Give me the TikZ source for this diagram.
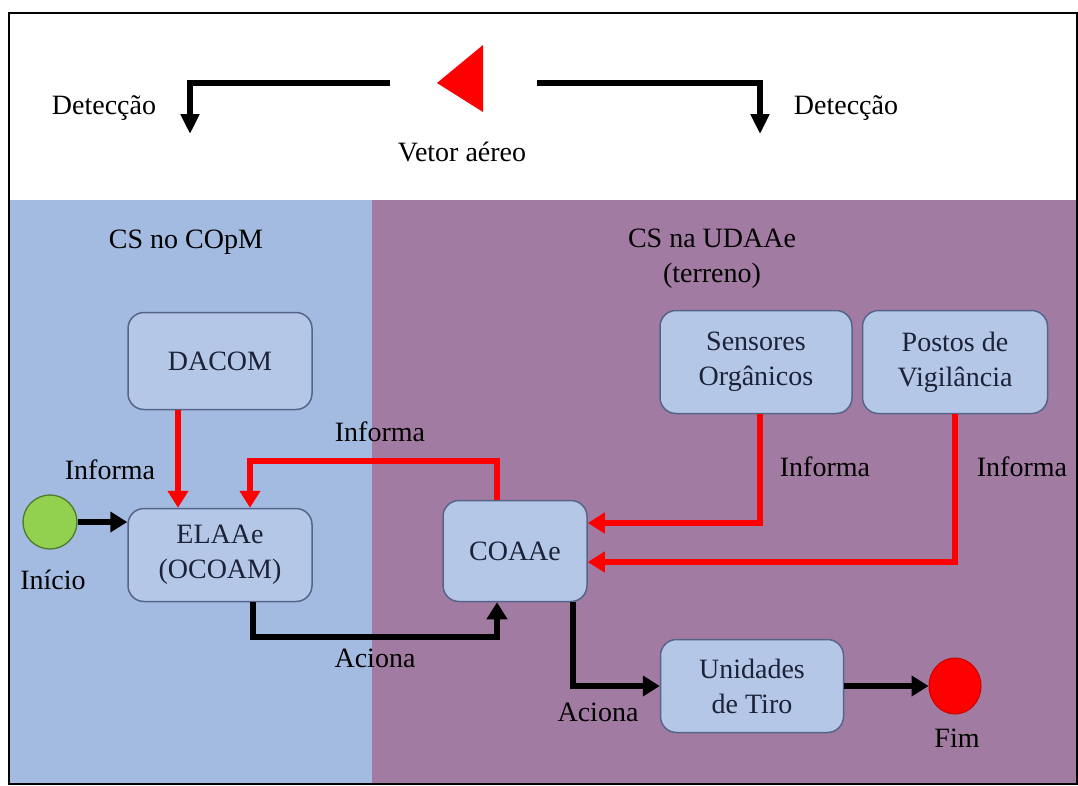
\documentclass[tikz,border=0pt]{standalone}
\usepackage{fontspec}
\setmainfont{Liberation Serif}
\newfontfamily\tnrfont{Liberation Serif}
\usetikzlibrary{arrows.meta,shapes.geometric}
\definecolor{bluebg}{HTML}{A3BBE1}
\definecolor{purplebg}{HTML}{A27BA2}
\definecolor{boxfill}{HTML}{B4C7E7}
\definecolor{boxline}{HTML}{56648A}
\definecolor{boxtext}{HTML}{1C2238}
\definecolor{startgreen}{HTML}{92D050}
\definecolor{startline}{HTML}{4E7A2A}
\newcommand{\lblfont}{\tnrfont\fontsize{28}{35}\selectfont}
\begin{document}
\begin{tikzpicture}[x=1pt,y=-1pt,
  box/.style={draw=boxline, fill=boxfill, rounded corners=16pt, line width=1.5pt, align=center, font=\lblfont, text=boxtext, inner sep=0pt},
  lbl/.style={font=\lblfont, inner sep=0pt},
  redarr/.style={draw=red, line width=6pt, -{Triangle[length=17pt,width=20pt]}},
  blkarr/.style={draw=black, line width=6pt, -{Triangle[length=17pt,width=20pt]}}
]
\useasboundingbox (0,0) rectangle (1078,785);
\fill[white] (0,0) rectangle (1078,785);
% background regions
\fill[bluebg] (8,200) rectangle (372,785);
\fill[purplebg] (372,200) rectangle (1078,785);
\draw[line width=2pt] (9,13) rectangle (1077,784);

% top part
\fill[red] (437,83) -- (483,45) -- (483,112) -- cycle;
\coordinate (lstart) at (390,83);
\coordinate (lcorner) at (190,83);
\coordinate (lend) at (190,134);
\coordinate (rstart) at (537,83);
\coordinate (rcorner) at (760,83);
\coordinate (rend) at (760,134);
\draw[blkarr, -{Triangle[length=20pt,width=18pt]}] (lstart) -- (lcorner) -- (lend);
\draw[blkarr, -{Triangle[length=20pt,width=18pt]}] (rstart) -- (rcorner) -- (rend);
\node[lbl] (detl) at (104,108) {Detecção};
\node[lbl] (detr) at (846,108) {Detecção};
\node[lbl] (vetor) at (462,152) {Vetor aéreo};

% region titles
\node[lbl] (cscopm) at (186,242) {CS no COpM};
\node[lbl, align=center] (csudaae) at (712,259) {CS na UDAAe\\(terreno)};

% boxes
\node[box, minimum width=184pt, minimum height=97pt] (dacom) at (220,361) {DACOM};
\node[box, minimum width=184pt, minimum height=93pt] (elaae) at (220,555) {ELAAe\\(OCOAM)};
\node[box, minimum width=144pt, minimum height=101pt] (coaae) at (515,551) {COAAe};
\node[box, minimum width=192pt, minimum height=103pt] (sens) at (756,362) {Sensores\\Orgânicos};
\node[box, minimum width=185pt, minimum height=103pt] (postos) at (955,362) {Postos de\\Vigilância};
\node[box, minimum width=183pt, minimum height=93pt] (unid) at (752,686) {Unidades\\de Tiro};

% start / end
\node[circle, draw=startline, fill=startgreen, line width=1.3pt, minimum size=54pt, inner sep=0pt] (inicio) at (50,522) {};
\node[ellipse, draw=red!80!black, fill=red, line width=1pt, minimum width=52pt, minimum height=56pt, inner sep=0pt] (fim) at (955,686) {};
\node[lbl] (inicioL) at (53,580) {Início};
\node[lbl] (fimL) at (957,738) {Fim};

% red connectors
\draw[redarr] ([xshift=-42pt]dacom.south) -- ([xshift=-42pt]elaae.north);
\draw[redarr] ([xshift=-18pt]coaae.north) -- ++(0,-39) -| ([xshift=30pt]elaae.north);
\draw[redarr] ([xshift=4pt]sens.south) |- ([yshift=28pt]coaae.east);
\draw[redarr] (postos.south) |- ([yshift=-11pt]coaae.east);
\node[lbl] (inf1) at (110,470) {Informa};
\node[lbl] (inf2) at (380,432) {Informa};
\node[lbl] (inf3) at (825,467) {Informa};
\node[lbl] (inf4) at (1022,467) {Informa};

% black connectors
\draw[blkarr] (inicio.east) -- (inicio.east -| elaae.west);
\draw[blkarr] ([xshift=33pt]elaae.south) -- ++(0,35) -| ([xshift=-18pt]coaae.south);
\draw[blkarr] ([xshift=58pt]coaae.south) |- (unid.west);
\draw[blkarr] (unid.east) -- (fim.west);
\node[lbl] (ac1) at (375,658) {Aciona};
\node[lbl] (ac2) at (598,712) {Aciona};
\end{tikzpicture}
\end{document}
